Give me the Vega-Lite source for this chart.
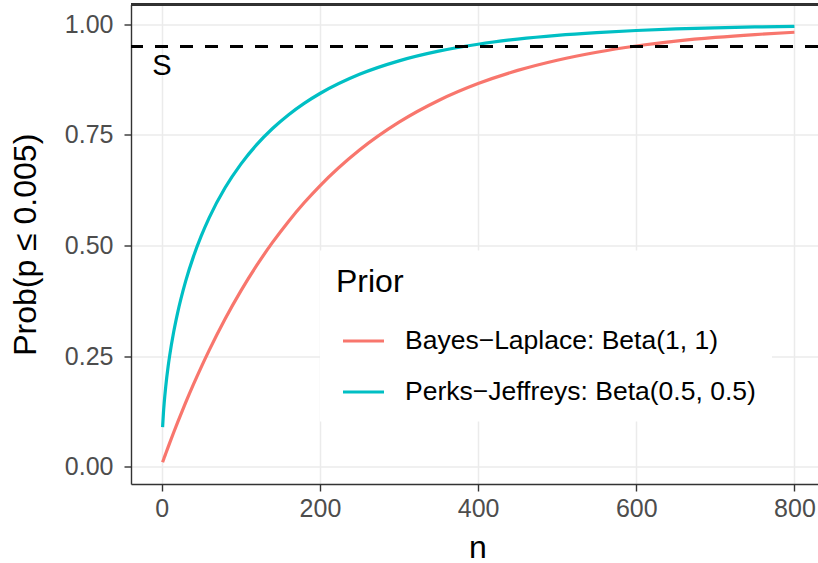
{
  "$schema": "https://vega.github.io/schema/vega-lite/v6.json",
  "width": 687,
  "height": 479.5,
  "autosize": {"type": "none"},
  "padding": {"left": 131, "top": 4.5, "right": 0, "bottom": 79},
  "config": {
    "font": "Liberation Sans",
    "view": {"stroke": null},
    "axis": {
      "gridColor": "#EBEBEB", "gridWidth": 1.5,
      "tickColor": "#333333", "tickWidth": 1.4, "tickSize": 7,
      "labelColor": "#4D4D4D", "labelFontSize": 25,
      "titleFontSize": 32, "titleFontWeight": "normal", "titleColor": "#000000",
      "domainColor": "#333333", "domainWidth": 1.4
    },
    "legend": {
      "titleFontSize": 32, "titleFontWeight": "normal", "titleColor": "#000000",
      "labelFontSize": 26.5, "labelColor": "#000000", "labelLimit": 600,
      "symbolType": "stroke", "symbolSize": 1681, "symbolStrokeWidth": 3.2,
      "fillColor": "white", "padding": 16, "labelOffset": 19, "symbolOffset": 5,
      "titlePadding": 20, "rowPadding": 15
    }
  },
  "data": {"values": [
    {"n": 1, "prob": 0.0100, "prior": "Bayes−Laplace: Beta(1, 1)"},
    {"n": 2, "prob": 0.0149, "prior": "Bayes−Laplace: Beta(1, 1)"},
    {"n": 3, "prob": 0.0199, "prior": "Bayes−Laplace: Beta(1, 1)"},
    {"n": 5, "prob": 0.0296, "prior": "Bayes−Laplace: Beta(1, 1)"},
    {"n": 8, "prob": 0.0441, "prior": "Bayes−Laplace: Beta(1, 1)"},
    {"n": 10, "prob": 0.0536, "prior": "Bayes−Laplace: Beta(1, 1)"},
    {"n": 15, "prob": 0.0771, "prior": "Bayes−Laplace: Beta(1, 1)"},
    {"n": 20, "prob": 0.0999, "prior": "Bayes−Laplace: Beta(1, 1)"},
    {"n": 30, "prob": 0.1439, "prior": "Bayes−Laplace: Beta(1, 1)"},
    {"n": 40, "prob": 0.1858, "prior": "Bayes−Laplace: Beta(1, 1)"},
    {"n": 50, "prob": 0.2256, "prior": "Bayes−Laplace: Beta(1, 1)"},
    {"n": 60, "prob": 0.2634, "prior": "Bayes−Laplace: Beta(1, 1)"},
    {"n": 80, "prob": 0.3337, "prior": "Bayes−Laplace: Beta(1, 1)"},
    {"n": 100, "prob": 0.3973, "prior": "Bayes−Laplace: Beta(1, 1)"},
    {"n": 120, "prob": 0.4548, "prior": "Bayes−Laplace: Beta(1, 1)"},
    {"n": 140, "prob": 0.5068, "prior": "Bayes−Laplace: Beta(1, 1)"},
    {"n": 160, "prob": 0.5538, "prior": "Bayes−Laplace: Beta(1, 1)"},
    {"n": 180, "prob": 0.5964, "prior": "Bayes−Laplace: Beta(1, 1)"},
    {"n": 200, "prob": 0.6349, "prior": "Bayes−Laplace: Beta(1, 1)"},
    {"n": 250, "prob": 0.7158, "prior": "Bayes−Laplace: Beta(1, 1)"},
    {"n": 300, "prob": 0.7788, "prior": "Bayes−Laplace: Beta(1, 1)"},
    {"n": 350, "prob": 0.8278, "prior": "Bayes−Laplace: Beta(1, 1)"},
    {"n": 400, "prob": 0.8660, "prior": "Bayes−Laplace: Beta(1, 1)"},
    {"n": 450, "prob": 0.8957, "prior": "Bayes−Laplace: Beta(1, 1)"},
    {"n": 500, "prob": 0.9188, "prior": "Bayes−Laplace: Beta(1, 1)"},
    {"n": 550, "prob": 0.9368, "prior": "Bayes−Laplace: Beta(1, 1)"},
    {"n": 600, "prob": 0.9508, "prior": "Bayes−Laplace: Beta(1, 1)"},
    {"n": 650, "prob": 0.9617, "prior": "Bayes−Laplace: Beta(1, 1)"},
    {"n": 700, "prob": 0.9702, "prior": "Bayes−Laplace: Beta(1, 1)"},
    {"n": 750, "prob": 0.9768, "prior": "Bayes−Laplace: Beta(1, 1)"},
    {"n": 800, "prob": 0.9820, "prior": "Bayes−Laplace: Beta(1, 1)"},
    {"n": 1, "prob": 0.0891, "prior": "Perks−Jeffreys: Beta(0.5, 0.5)"},
    {"n": 2, "prob": 0.1194, "prior": "Perks−Jeffreys: Beta(0.5, 0.5)"},
    {"n": 3, "prob": 0.1433, "prior": "Perks−Jeffreys: Beta(0.5, 0.5)"},
    {"n": 5, "prob": 0.1815, "prior": "Perks−Jeffreys: Beta(0.5, 0.5)"},
    {"n": 8, "prob": 0.2263, "prior": "Perks−Jeffreys: Beta(0.5, 0.5)"},
    {"n": 10, "prob": 0.2515, "prior": "Perks−Jeffreys: Beta(0.5, 0.5)"},
    {"n": 15, "prob": 0.3042, "prior": "Perks−Jeffreys: Beta(0.5, 0.5)"},
    {"n": 20, "prob": 0.3477, "prior": "Perks−Jeffreys: Beta(0.5, 0.5)"},
    {"n": 30, "prob": 0.4182, "prior": "Perks−Jeffreys: Beta(0.5, 0.5)"},
    {"n": 40, "prob": 0.4747, "prior": "Perks−Jeffreys: Beta(0.5, 0.5)"},
    {"n": 50, "prob": 0.5221, "prior": "Perks−Jeffreys: Beta(0.5, 0.5)"},
    {"n": 60, "prob": 0.5630, "prior": "Perks−Jeffreys: Beta(0.5, 0.5)"},
    {"n": 80, "prob": 0.6303, "prior": "Perks−Jeffreys: Beta(0.5, 0.5)"},
    {"n": 100, "prob": 0.6839, "prior": "Perks−Jeffreys: Beta(0.5, 0.5)"},
    {"n": 120, "prob": 0.7278, "prior": "Perks−Jeffreys: Beta(0.5, 0.5)"},
    {"n": 140, "prob": 0.7643, "prior": "Perks−Jeffreys: Beta(0.5, 0.5)"},
    {"n": 160, "prob": 0.7950, "prior": "Perks−Jeffreys: Beta(0.5, 0.5)"},
    {"n": 180, "prob": 0.8212, "prior": "Perks−Jeffreys: Beta(0.5, 0.5)"},
    {"n": 200, "prob": 0.8435, "prior": "Perks−Jeffreys: Beta(0.5, 0.5)"},
    {"n": 250, "prob": 0.8869, "prior": "Perks−Jeffreys: Beta(0.5, 0.5)"},
    {"n": 300, "prob": 0.9173, "prior": "Perks−Jeffreys: Beta(0.5, 0.5)"},
    {"n": 350, "prob": 0.9392, "prior": "Perks−Jeffreys: Beta(0.5, 0.5)"},
    {"n": 400, "prob": 0.9549, "prior": "Perks−Jeffreys: Beta(0.5, 0.5)"},
    {"n": 450, "prob": 0.9665, "prior": "Perks−Jeffreys: Beta(0.5, 0.5)"},
    {"n": 500, "prob": 0.9750, "prior": "Perks−Jeffreys: Beta(0.5, 0.5)"},
    {"n": 550, "prob": 0.9812, "prior": "Perks−Jeffreys: Beta(0.5, 0.5)"},
    {"n": 600, "prob": 0.9859, "prior": "Perks−Jeffreys: Beta(0.5, 0.5)"},
    {"n": 650, "prob": 0.9894, "prior": "Perks−Jeffreys: Beta(0.5, 0.5)"},
    {"n": 700, "prob": 0.9920, "prior": "Perks−Jeffreys: Beta(0.5, 0.5)"},
    {"n": 750, "prob": 0.9939, "prior": "Perks−Jeffreys: Beta(0.5, 0.5)"},
    {"n": 800, "prob": 0.9954, "prior": "Perks−Jeffreys: Beta(0.5, 0.5)"}
  ]},
  "layer": [
    {
      "mark": {"type": "line", "strokeWidth": 3.2, "interpolate": "monotone"},
      "encoding": {
        "x": {
          "field": "n", "type": "quantitative",
          "scale": {"domain": [-38.95, 829.8], "nice": false, "zero": false},
          "axis": {"values": [0, 200, 400, 600, 800], "title": "n", "labelPadding": 5, "titlePadding": 11, "titleX": 346.5}
        },
        "y": {
          "field": "prob", "type": "quantitative",
          "scale": {"domain": [-0.0393, 1.0447], "nice": false, "zero": false},
          "axis": {"values": [0, 0.25, 0.5, 0.75, 1], "format": ".2f", "title": "Prob(p ≤ 0.005)", "labelPadding": 11, "titlePadding": 22}
        },
        "color": {
          "field": "prior", "type": "nominal",
          "scale": {"domain": ["Bayes−Laplace: Beta(1, 1)", "Perks−Jeffreys: Beta(0.5, 0.5)"], "range": ["#F8766D", "#00BFC4"]},
          "legend": {"title": "Prior", "orient": "none", "legendX": 189, "legendY": 246}
        }
      }
    },
    {
      "mark": {"type": "rule", "strokeDash": [12.5, 12.5], "strokeWidth": 3, "color": "#000000"},
      "encoding": {"y": {"datum": 0.95}}
    },
    {
      "mark": {"type": "rule", "strokeWidth": 1.4, "color": "#333333"},
      "encoding": {"y": {"datum": 1.0447}}
    },
    {
      "data": {"values": [{"n": 0, "prob": 0.905, "label": "S"}]},
      "mark": {"type": "text", "fontSize": 29, "color": "#000000"},
      "encoding": {
        "x": {"field": "n", "type": "quantitative"},
        "y": {"field": "prob", "type": "quantitative"},
        "text": {"field": "label"}
      }
    }
  ]
}
